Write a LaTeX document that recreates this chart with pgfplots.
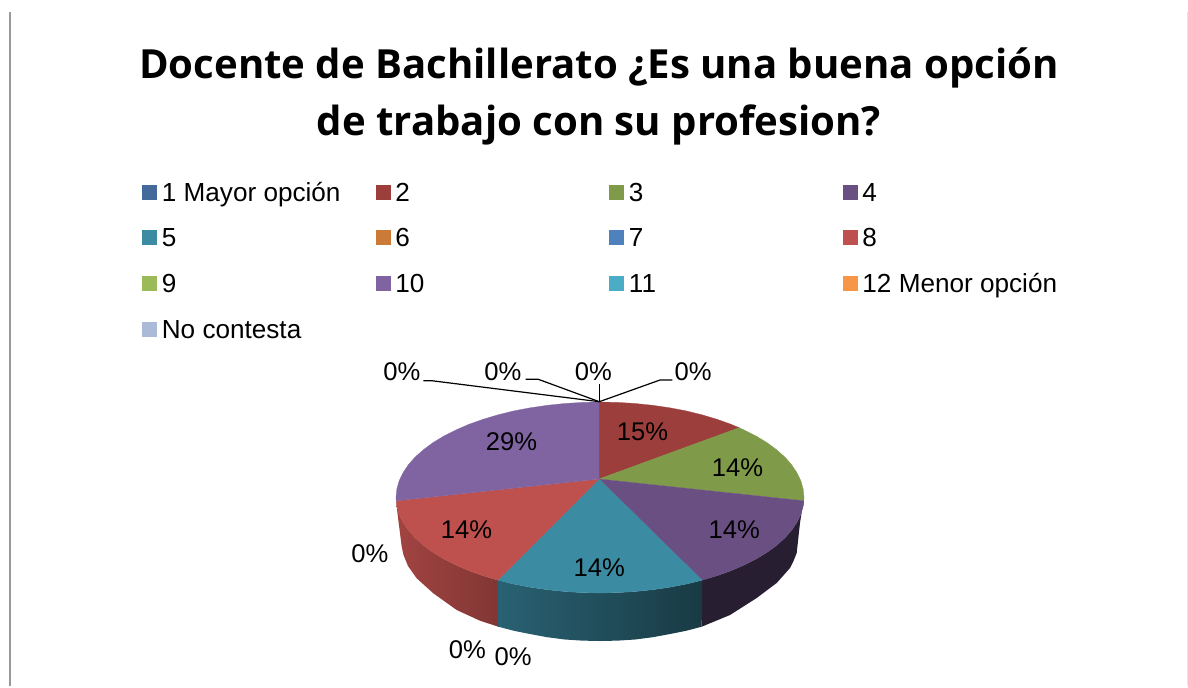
\documentclass[border=0pt]{standalone}
\usepackage{pgfplots}
\pgfplotsset{compat=1.18}
\usepackage{fontspec}
\setmainfont{Liberation Sans}
\newfontfamily\titlefont{Open Sans}
\definecolor{c1}{HTML}{44699B}
\definecolor{c2}{HTML}{9C3F3C}
\definecolor{c3}{HTML}{7F9A48}
\definecolor{c4}{HTML}{6A4F82}
\definecolor{c5}{HTML}{3B8BA3}
\definecolor{c6}{HTML}{CB7A37}
\definecolor{c7}{HTML}{4F81BD}
\definecolor{c8}{HTML}{BE504D}
\definecolor{c9}{HTML}{9BBB59}
\definecolor{c10}{HTML}{8064A2}
\definecolor{c11}{HTML}{4BACC6}
\definecolor{c12}{HTML}{F79646}
\definecolor{c13}{HTML}{AABAD7}
\pgfplotsset{
  sq/.style={legend image code/.code={\fill[#1] (0pt,-5.25pt) rectangle (10.5pt,5.25pt);}},
}
\newcommand{\lab}[3]{\node[anchor=base west,inner sep=0pt,font=\fontsize{19.2pt}{22pt}\selectfont] at (axis cs:#1,#2) {#3};}
\newcommand{\ent}[1]{\addlegendentry{\makebox[164.25pt][l]{\hspace{4pt}\strut #1}}}
\begin{document}
\begin{tikzpicture}
\begin{axis}[
  scale only axis, width=891pt, height=514.5pt,
  xmin=0, xmax=1188, ymin=0, ymax=686, y dir=reverse,
  axis lines=none, clip=false,
  legend columns=4,
  legend cell align=left,
  legend style={at={(axis cs:142,180.5)},anchor=north west,draw=none,fill=none,inner sep=0pt,outer sep=0pt,
    row sep=17.5pt,column sep=0pt,font=\fontsize{19.6pt}{22pt}\selectfont,
    nodes={inner sep=0pt,outer sep=0pt}},
]
\addlegendimage{sq=c1}\ent{1 Mayor opción}
\addlegendimage{sq=c2}\ent{2}
\addlegendimage{sq=c3}\ent{3}
\addlegendimage{sq=c4}\ent{4}
\addlegendimage{sq=c5}\ent{5}
\addlegendimage{sq=c6}\ent{6}
\addlegendimage{sq=c7}\ent{7}
\addlegendimage{sq=c8}\ent{8}
\addlegendimage{sq=c9}\ent{9}
\addlegendimage{sq=c10}\ent{10}
\addlegendimage{sq=c11}\ent{11}
\addlegendimage{sq=c12}\ent{12 Menor opción}
\addlegendimage{sq=c13}\ent{No contesta}
% page extent
\addplot[forget plot,draw=none] coordinates {(0,0) (1188,0) (1188,686) (0,686)};
% frame edges
\addplot[forget plot,draw=black!40,line width=1.5pt] coordinates {(10,12) (10,686)};
\addplot[forget plot,draw=black!10,line width=0.6pt] coordinates {(1187.5,12) (1187.5,686)};
% sides
\addplot[forget plot,draw=none,left color=c8!85!black,right color=c8!68!black] coordinates {
(396,501) (396.8,505.8) (399.1,514.1) (403,522.2) (408.3,530.2) (415.1,537.9) (423.3,545.3) (432.9,552.3) (443.7,558.9) (455.8,565) (468.9,570.7) (483,575.7) (498,580.2)
(498.3,626.7) (480,620.7) (456.7,610) (433.3,593.3) (416.7,578.3) (408,566) (403.5,555) (401.7,546.7) (398.3,520)} --cycle;
\addplot[forget plot,draw=none,left color=c5!70!black,right color=c5!42!black] coordinates {
(498,580) (513.8,584.1) (530.2,587.2) (547.2,589.7) (564.6,591.5) (582.2,592.6) (600,593) (617.8,592.6) (635.4,591.5) (652.8,589.7) (669.8,587.2) (686.2,584.1) (702,580.2)
(701.7,626.7) (686,630.8) (670,634) (652.8,637.2) (635,639.5) (617.8,640.6) (600,641) (582.2,640.6) (565,639.5) (547.2,637.2) (530,634) (514,630.8) (498.3,626.7)} --cycle;
\addplot[forget plot,draw=none,fill=c4!38!black] coordinates {
(702,580) (717,575.7) (731.1,570.7) (744.2,565) (756.3,558.9) (767.1,552.3) (776.7,545.3) (784.9,537.9) (791.7,530.2) (797,522.2) (800.9,514.1) (803.2,505.8) (803.8,500.8)
(803.3,501.7) (800,523) (796.7,553) (793.5,561) (790,568) (776.7,583) (756.7,598) (730,615) (701.7,626.7)} --cycle;
% top face
\addplot[forget plot,draw=c2,line width=0.2pt,fill=c2] coordinates {
(599,479) (599,402) (617.8,402.4) (635.4,403.5) (652.8,405.3) (669.8,407.8) (686.2,410.9) (702,414.8) (717,419.3) (731.1,424.3) (739.1,427.7)} --cycle;
\addplot[forget plot,draw=c3,line width=0.2pt,fill=c3] coordinates {
(599,479) (739.1,427.7) (744.2,430) (756.3,436.1) (767.1,442.7) (776.7,449.8) (784.9,457.1) (791.7,464.8) (797,472.8) (800.9,480.9) (803.2,489.2) (804,497.5) (803.8,500.8)} --cycle;
\addplot[forget plot,draw=c4,line width=0.2pt,fill=c4] coordinates {
(599,479) (803.8,500.8) (803.2,505.8) (800.9,514.1) (797,522.2) (791.7,530.2) (784.9,537.9) (776.7,545.3) (767.1,552.3) (756.3,558.9) (744.2,565) (731.1,570.7) (717,575.7) (702,580.2)} --cycle;
\addplot[forget plot,draw=c5,line width=0.2pt,fill=c5] coordinates {
(599,479) (702,580.2) (686.2,584.1) (669.8,587.2) (652.8,589.7) (635.4,591.5) (617.8,592.6) (600,593) (582.2,592.6) (564.6,591.5) (547.2,589.7) (530.2,587.2) (513.8,584.1) (498,580.2)} --cycle;
\addplot[forget plot,draw=c8,line width=0.2pt,fill=c8] coordinates {
(599,479) (498,580.2) (483,575.7) (468.9,570.7) (455.8,565) (443.7,558.9) (432.9,552.3) (423.3,545.3) (415.1,537.9) (408.3,530.2) (403,522.2) (399.1,514.1) (396.8,505.8) (396.2,500.8)} --cycle;
\addplot[forget plot,draw=c10,line width=0.2pt,fill=c10] coordinates {
(599,479) (396.2,500.8) (396,497.5) (396.8,489.2) (399.1,480.9) (403,472.8) (408.3,464.8) (415.1,457.1) (423.3,449.8) (432.9,442.7) (443.7,436.1) (455.8,430) (468.9,424.3) (483,419.3) (498,414.8) (513.8,410.9) (530.2,407.8) (547.2,405.3) (564.6,403.5) (582.2,402.4) (599,402)} --cycle;
% leader lines
\addplot[forget plot,black,line width=0.9pt] coordinates {(599.3,401.7) (431.7,380.7) (423.3,380.7)};
\addplot[forget plot,black,line width=0.9pt] coordinates {(599.3,401.7) (538.3,379.3) (525.7,379.3)};
\addplot[forget plot,black,line width=0.9pt] coordinates {(599.3,401.7) (599.3,384)};
\addplot[forget plot,black,line width=0.9pt] coordinates {(599.3,401.7) (660,380) (672.3,380)};
% labels
\lab{383}{380}{0\%}
\lab{484}{380}{0\%}
\lab{574.7}{380}{0\%}
\lab{674.3}{380}{0\%}
\lab{351}{562.7}{0\%}
\lab{448.7}{658}{0\%}
\lab{494.3}{665.7}{0\%}
\lab{616.7}{440.7}{15\%}
\lab{711.7}{476.7}{14\%}
\lab{708.3}{538.3}{14\%}
\lab{573.3}{576.7}{14\%}
\lab{440.7}{538.3}{14\%}
\lab{485.7}{450}{29\%}
% title
\node[anchor=base,inner sep=0pt,font=\titlefont\bfseries\fontsize{30.1pt}{36pt}\selectfont] at (axis cs:599,78) {Docente de Bachillerato ¿Es una buena opción};
\node[anchor=base,inner sep=0pt,font=\titlefont\bfseries\fontsize{30.1pt}{36pt}\selectfont] at (axis cs:599,135) {de trabajo con su profesion?};
\end{axis}
\end{tikzpicture}
\end{document}
